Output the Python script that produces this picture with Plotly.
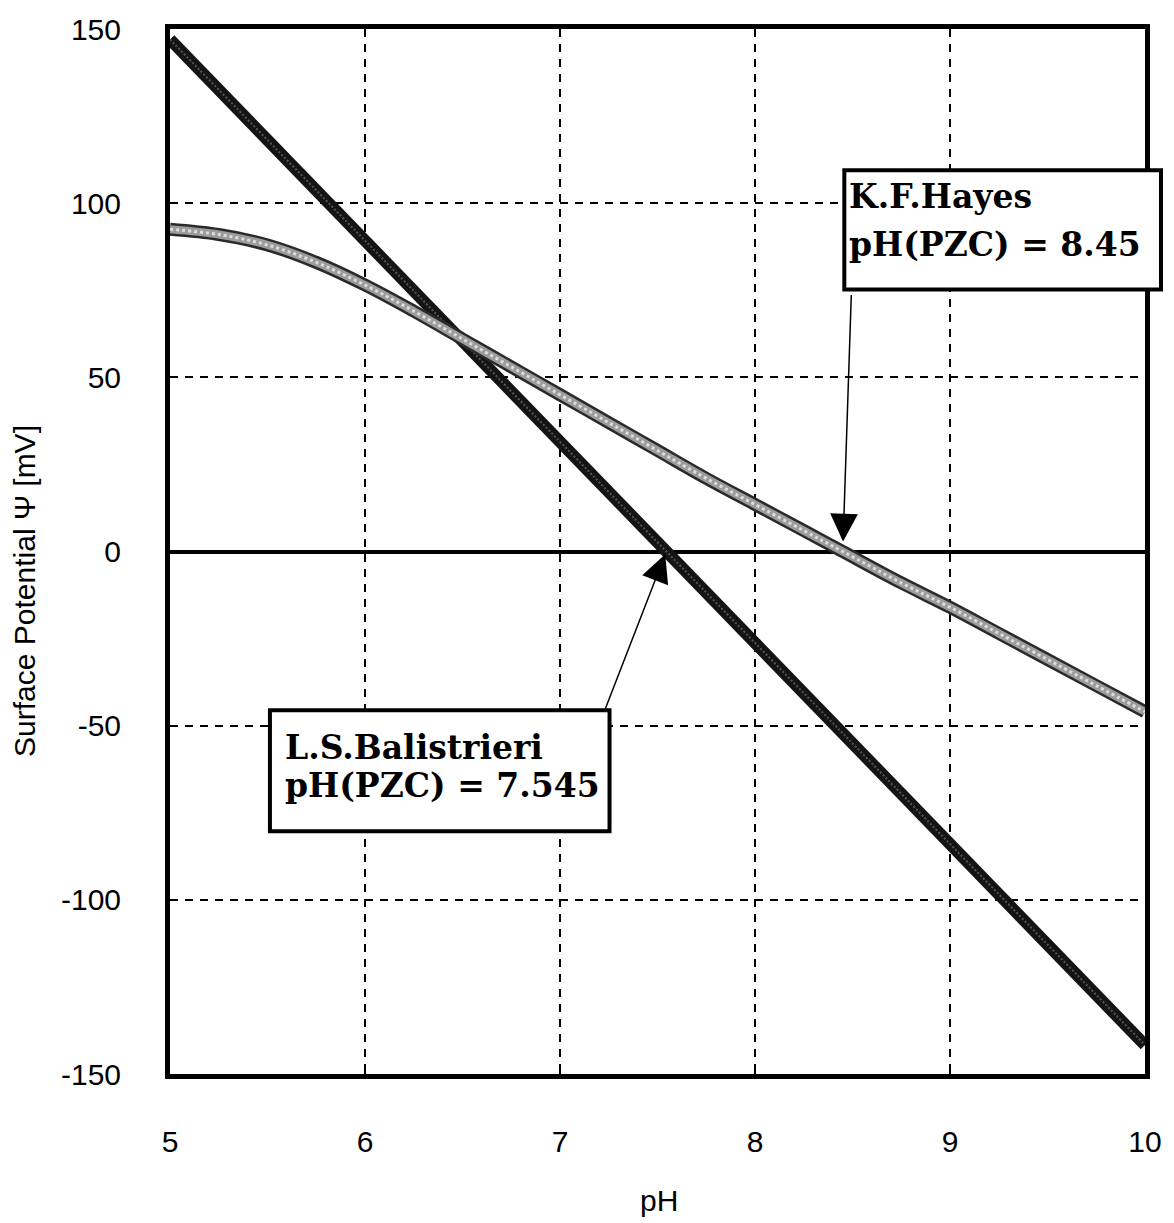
import plotly.graph_objects as go

# ---- data ----
ph_hayes = [5.0, 5.25, 5.5, 5.75, 6.0, 6.25, 6.5, 6.75, 7.0, 7.25, 7.5, 7.75,
            8.0, 8.25, 8.45, 8.75, 9.0, 9.25, 9.5, 9.75, 10.0]
psi_hayes = [92.5, 91, 88, 83, 76.5, 69, 61, 53, 45, 37, 29, 21,
             13.5, 6, 0, -9, -16, -23.5, -31, -38.5, -46]

ph_bal = [5.0, 6.0, 7.0, 7.545, 8.0, 9.0, 10.0]
psi_bal = [147, 89.3, 31.5, 0, -26.3, -84, -141.7]

x_ticks = [5, 6, 7, 8, 9, 10]
y_ticks = [-150, -100, -50, 0, 50, 100, 150]

pzc_hayes = 8.45
pzc_bal = 7.545
label_hayes = ["K.F.Hayes", "pH(PZC) = 8.45"]
label_bal = ["L.S.Balistrieri", "pH(PZC) = 7.545"]

fig = go.Figure()

# Balistrieri (dark thick line)
fig.add_trace(go.Scatter(x=ph_bal, y=psi_bal, mode="lines",
                         line=dict(color="#141414", width=12),
                         showlegend=False, hoverinfo="skip"))
fig.add_trace(go.Scatter(x=ph_bal, y=psi_bal, mode="lines",
                         line=dict(color="#555555", width=2, dash="2px,2px"),
                         showlegend=False, hoverinfo="skip"))
# Hayes (grey textured line)
fig.add_trace(go.Scatter(x=ph_hayes, y=psi_hayes, mode="lines",
                         line=dict(color="#2a2a2a", width=13, shape="spline"),
                         showlegend=False, hoverinfo="skip"))
fig.add_trace(go.Scatter(x=ph_hayes, y=psi_hayes, mode="lines",
                         line=dict(color="#9c9c9c", width=8, shape="spline"),
                         showlegend=False, hoverinfo="skip"))
fig.add_trace(go.Scatter(x=ph_hayes, y=psi_hayes, mode="lines",
                         line=dict(color="#dddddd", width=3, shape="spline", dash="3px,3px"),
                         showlegend=False, hoverinfo="skip"))

tickfont = dict(family="Liberation Sans, Arial, sans-serif", size=30, color="black")
serif_bold = dict(family="DejaVu Serif, serif", size=33, color="black", weight="bold")

fig.update_xaxes(range=[5, 10], tickvals=x_ticks, ticktext=[str(t) for t in x_ticks],
                 showgrid=True, gridcolor="black", gridwidth=1.6, griddash="8px,7px",
                 showline=True, linecolor="black", linewidth=5, mirror=True,
                 ticks="inside", ticklen=8, tickwidth=2, tickcolor="black",
                 tickfont=tickfont, ticklabelstandoff=37, zeroline=False)
fig.update_yaxes(range=[-150, 150], tickvals=y_ticks, ticktext=[str(t) for t in y_ticks],
                 showgrid=True, gridcolor="black", gridwidth=1.6, griddash="8px,7px",
                 showline=True, linecolor="black", linewidth=5, mirror=True,
                 ticks="inside", ticklen=8, tickwidth=2, tickcolor="black",
                 tickfont=tickfont, ticklabelstandoff=38,
                 zeroline=True, zerolinecolor="black", zerolinewidth=4)

# label boxes
fig.add_shape(type="rect", xref="paper", yref="paper", x0=0.6916, x1=1.0164,
              y0=0.7507, y1=0.8649, fillcolor="white", line=dict(color="black", width=4),
              layer="above")
fig.add_shape(type="rect", xref="paper", yref="paper", x0=0.1025, x1=0.4508,
              y0=0.2322, y1=0.3482, fillcolor="white", line=dict(color="black", width=4),
              layer="above")

annotations = [
    dict(text=label_hayes[0], x=0.6947, y=0.8395),
    dict(text=label_hayes[1], x=0.6947, y=0.7937),
    dict(text=label_bal[0], x=0.1158, y=0.3125),
    dict(text=label_bal[1], x=0.1158, y=0.2763),
]
for a in annotations:
    fig.add_annotation(xref="paper", yref="paper", xanchor="left", yanchor="middle",
                       showarrow=False, font=serif_bold, **a)

# arrows
fig.add_annotation(x=pzc_hayes, y=0, xref="x", yref="y", text="", showarrow=True,
                   ax=8.6, ay=-258, arrowhead=2, arrowsize=3.7, arrowwidth=1.5,
                   arrowcolor="black", standoff=10)
fig.add_annotation(x=pzc_bal, y=0, xref="x", yref="y", text="", showarrow=True,
                   ax=-62, ay=160, arrowhead=2, arrowsize=3.7, arrowwidth=1.5,
                   arrowcolor="black", standoff=3)

# axis titles
fig.add_annotation(text="Surface Potential \u03a8 [mV]", xref="paper", yref="paper",
                   x=-0.1486, y=0.4624, textangle=-90, showarrow=False,
                   xanchor="center", yanchor="middle",
                   font=dict(family="Liberation Sans, Arial, sans-serif", size=30, color="black"))
fig.add_annotation(text="pH", xref="paper", yref="paper", x=0.502, y=-0.1208,
                   showarrow=False, xanchor="center", yanchor="middle",
                   font=dict(family="Liberation Sans, Arial, sans-serif", size=30, color="black"))

fig.update_layout(width=1174, height=1223, margin=dict(l=170, r=28, t=23, b=149),
                  plot_bgcolor="white", paper_bgcolor="white", showlegend=False)

fig.write_html("out.html")
